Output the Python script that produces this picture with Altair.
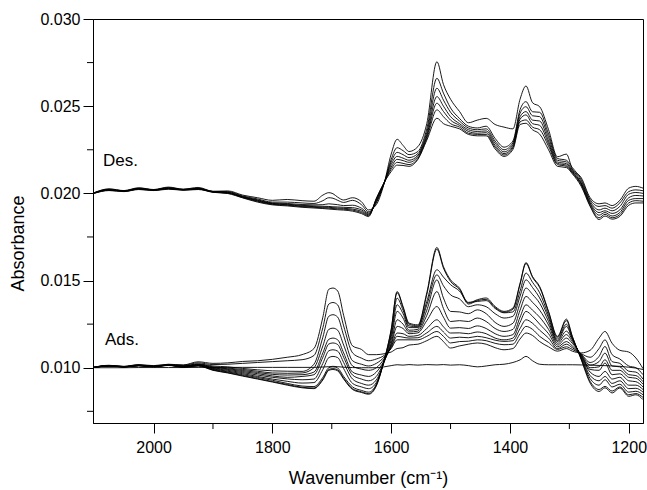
import altair as alt
import pandas as pd

# Wavenumber grid (cm-1)
wavenumber = [2100, 2075, 2050, 2025, 2000, 1975, 1950, 1925, 1900, 1875,
              1850, 1825, 1800, 1775, 1750, 1730, 1715, 1705, 1698, 1690,
              1680, 1665, 1650, 1638, 1625, 1612, 1600, 1590, 1580, 1570,
              1555, 1540, 1523, 1512, 1500, 1485, 1470, 1455, 1440, 1425,
              1410, 1395, 1383, 1373, 1362, 1350, 1335, 1320, 1305, 1295,
              1280, 1265, 1250, 1240, 1228, 1215, 1200, 1188, 1176]

# Absorbance values in units of 1e-5
des_1 = [2004, 2026, 2016, 2032, 2022, 2036, 2024, 2034, 2012, 2014,
         1990, 1975, 1960, 1965, 1958, 1955, 1990, 2004, 1998, 1978,
         1962, 1975, 1952, 1905, 1935, 2055, 2225, 2310, 2275, 2240,
         2268, 2400, 2755, 2625, 2540, 2470, 2405, 2420, 2430, 2395,
         2380, 2370, 2540, 2616, 2520, 2497, 2365, 2210, 2225, 2140,
         2090, 1975, 1940, 1945, 1930, 1960, 2030, 2040, 2030]
des_2 = [2003, 2024, 2015, 2030, 2021, 2033, 2023, 2030, 2011, 2010,
         1985, 1968, 1950, 1950, 1945, 1942, 1958, 1975, 1972, 1960,
         1948, 1960, 1935, 1895, 1945, 2056, 2195, 2262, 2245, 2222,
         2240, 2370, 2660, 2575, 2490, 2430, 2385, 2375, 2385, 2315,
         2265, 2300, 2480, 2526, 2468, 2465, 2340, 2200, 2190, 2148,
         2080, 1965, 1925, 1930, 1915, 1945, 2010, 2020, 2015]
des_3 = [2003, 2022, 2014, 2028, 2020, 2031, 2022, 2028, 2010, 2007,
         1982, 1963, 1945, 1942, 1936, 1934, 1935, 1940, 1938, 1935,
         1930, 1932, 1915, 1888, 1952, 2057, 2180, 2235, 2222, 2205,
         2228, 2350, 2603, 2535, 2465, 2415, 2375, 2365, 2370, 2300,
         2250, 2290, 2460, 2497, 2445, 2440, 2320, 2190, 2180, 2135,
         2070, 1955, 1905, 1915, 1900, 1925, 1995, 2005, 2000]
des_4 = [2002, 2020, 2013, 2026, 2019, 2029, 2021, 2027, 2009, 2005,
         1980, 1960, 1942, 1938, 1931, 1928, 1926, 1925, 1923, 1922,
         1920, 1918, 1905, 1882, 1958, 2058, 2165, 2212, 2202, 2190,
         2218, 2335, 2555, 2500, 2440, 2400, 2365, 2355, 2358, 2288,
         2238, 2280, 2440, 2469, 2420, 2415, 2300, 2180, 2170, 2128,
         2060, 1945, 1890, 1900, 1885, 1905, 1975, 1988, 1985]
des_5 = [2002, 2019, 2012, 2025, 2018, 2027, 2020, 2025, 2008, 2003,
         1978, 1957, 1940, 1935, 1927, 1924, 1921, 1920, 1918, 1916,
         1914, 1910, 1897, 1877, 1963, 2059, 2150, 2195, 2188, 2178,
         2210, 2325, 2517, 2470, 2420, 2390, 2355, 2345, 2348, 2275,
         2228, 2270, 2425, 2450, 2400, 2390, 2285, 2172, 2162, 2122,
         2055, 1938, 1875, 1890, 1870, 1890, 1960, 1970, 1970]
des_6 = [2001, 2018, 2011, 2024, 2017, 2026, 2019, 2024, 2007, 2001,
         1976, 1954, 1937, 1932, 1924, 1920, 1917, 1915, 1913, 1911,
         1909, 1904, 1890, 1872, 1968, 2060, 2138, 2178, 2172, 2165,
         2200, 2315, 2479, 2440, 2400, 2380, 2345, 2338, 2338, 2265,
         2220, 2262, 2410, 2421, 2380, 2365, 2270, 2165, 2155, 2118,
         2048, 1930, 1860, 1880, 1860, 1878, 1945, 1958, 1955]
des_7 = [2000, 2016, 2010, 2022, 2016, 2024, 2018, 2022, 2006, 1999,
         1974, 1950, 1934, 1928, 1920, 1916, 1913, 1910, 1908, 1906,
         1904, 1898, 1884, 1867, 1972, 2061, 2125, 2162, 2160, 2155,
         2195, 2305, 2431, 2400, 2385, 2370, 2338, 2330, 2330, 2255,
         2212, 2252, 2395, 2402, 2365, 2340, 2250, 2155, 2148, 2112,
         2040, 1925, 1850, 1870, 1852, 1868, 1932, 1945, 1945]

ads_1 = [1002, 1012, 1004, 1014, 1006, 1016, 1002, 1010, 985, 970,
         952, 935, 918, 900, 885, 880, 930, 985, 990, 982,
         935, 875, 858, 848, 895, 1040, 1220, 1437, 1351, 1256,
         1246, 1430, 1690, 1580, 1504, 1457, 1371, 1390, 1400, 1351,
         1323, 1342, 1485, 1603, 1523, 1466, 1323, 1180, 1279, 1180,
         1046, 912, 864, 885, 855, 884, 836, 845, 817]
ads_2 = [1003, 1010, 1006, 1012, 1008, 1014, 1004, 1012, 987, 972,
         955, 938, 921, 904, 888, 884, 935, 990, 995, 988,
         940, 880, 862, 852, 900, 1040, 1215, 1430, 1345, 1250,
         1240, 1420, 1680, 1572, 1495, 1450, 1365, 1385, 1392, 1345,
         1318, 1335, 1478, 1598, 1518, 1460, 1318, 1175, 1270, 1178,
         1050, 922, 875, 893, 866, 890, 845, 852, 830]
ads_3 = [1001, 1011, 1005, 1013, 1005, 1015, 1005, 1014, 990, 976,
         960, 944, 928, 910, 895, 892, 945, 1000, 1005, 998,
         950, 890, 870, 860, 905, 1040, 1195, 1399, 1330, 1240,
         1235, 1380, 1562, 1520, 1476, 1440, 1375, 1380, 1385, 1340,
         1315, 1320, 1440, 1543, 1490, 1430, 1300, 1165, 1250, 1170,
         1055, 938, 900, 931, 890, 905, 860, 865, 845]
ads_4 = [1002, 1009, 1004, 1011, 1007, 1013, 1006, 1012, 993, 980,
         966, 950, 935, 922, 912, 915, 990, 1058, 1065, 1058,
         995, 910, 890, 880, 915, 1035, 1180, 1361, 1310, 1230,
         1230, 1360, 1533, 1470, 1418, 1395, 1350, 1361, 1350, 1310,
         1285, 1295, 1410, 1504, 1460, 1400, 1285, 1155, 1237, 1165,
         1060, 955, 925, 950, 910, 925, 880, 882, 860]
ads_5 = [1003, 1012, 1006, 1014, 1006, 1016, 1007, 1015, 996, 985,
         972, 958, 945, 936, 931, 935, 1025, 1097, 1103, 1095,
         1030, 935, 910, 900, 930, 1030, 1160, 1323, 1285, 1215,
         1220, 1330, 1504, 1400, 1323, 1320, 1310, 1332, 1310, 1260,
         1237, 1255, 1370, 1457, 1420, 1370, 1265, 1150, 1210, 1160,
         1065, 975, 950, 979, 935, 945, 900, 900, 875]
ads_6 = [1002, 1010, 1005, 1012, 1008, 1014, 1008, 1016, 999, 990,
         978, 966, 953, 945, 950, 960, 1060, 1136, 1142, 1133,
         1060, 958, 935, 925, 950, 1035, 1140, 1275, 1250, 1205,
         1210, 1300, 1437, 1340, 1265, 1270, 1265, 1285, 1265, 1225,
         1208, 1220, 1330, 1409, 1375, 1330, 1245, 1140, 1190, 1150,
         1070, 990, 985, 1027, 960, 965, 925, 920, 890]
ads_7 = [1001, 1011, 1004, 1013, 1007, 1015, 1008, 1018, 1002, 994,
         984, 973, 962, 958, 960, 975, 1085, 1163, 1170, 1160,
         1085, 975, 958, 950, 975, 1040, 1130, 1237, 1225, 1195,
         1200, 1270, 1351, 1290, 1227, 1230, 1225, 1240, 1225, 1195,
         1180, 1190, 1290, 1361, 1330, 1290, 1220, 1130, 1170, 1140,
         1072, 1000, 1005, 1046, 985, 985, 945, 940, 905]
ads_8 = [1003, 1013, 1006, 1015, 1006, 1017, 1010, 1020, 1005, 998,
         990, 980, 970, 968, 970, 1000, 1125, 1220, 1227, 1215,
         1130, 1010, 992, 985, 1000, 1050, 1120, 1199, 1195, 1180,
         1185, 1225, 1275, 1235, 1199, 1200, 1195, 1205, 1195, 1170,
         1160, 1170, 1260, 1323, 1295, 1250, 1195, 1120, 1150, 1125,
         1075, 1015, 1035, 1084, 1010, 1005, 960, 955, 920]
ads_9 = [1002, 1010, 1005, 1012, 1009, 1014, 1010, 1022, 1010, 1005,
         996, 988, 982, 980, 979, 1020, 1175, 1295, 1304, 1290,
         1185, 1040, 1020, 1010, 1025, 1060, 1115, 1180, 1175, 1170,
         1172, 1200, 1237, 1205, 1170, 1175, 1172, 1180, 1172, 1158,
         1151, 1155, 1225, 1275, 1255, 1215, 1170, 1110, 1135, 1115,
         1078, 1030, 1065, 1122, 1035, 1025, 980, 975, 935]
ads_10 = [1004, 1012, 1007, 1016, 1010, 1018, 1014, 1028, 1018, 1020,
          1025, 1030, 1035, 1040, 1046, 1070, 1230, 1365, 1374, 1360,
          1240, 1085, 1055, 1040, 1050, 1070, 1110, 1160, 1160, 1160,
          1160, 1180, 1208, 1180, 1142, 1150, 1152, 1160, 1155, 1140,
          1132, 1135, 1195, 1237, 1220, 1180, 1145, 1105, 1120, 1105,
          1080, 1060, 1110, 1160, 1075, 1050, 1010, 1000, 960]
ads_11 = [1003, 1014, 1008, 1018, 1012, 1020, 1016, 1034, 1025, 1028,
          1036, 1040, 1048, 1060, 1075, 1110, 1290, 1450, 1457, 1440,
          1300, 1125, 1105, 1075, 1075, 1080, 1090, 1110, 1115, 1130,
          1135, 1155, 1180, 1150, 1113, 1125, 1135, 1142, 1135, 1115,
          1103, 1110, 1165, 1199, 1185, 1150, 1120, 1095, 1110, 1095,
          1085, 1100, 1170, 1208, 1140, 1100, 1090, 1056, 995]
ads_12 = [1000, 1000, 1000, 1001, 1001, 1001, 1001, 1002, 1002, 1002,
          1002, 1002, 1002, 1002, 1002, 1002, 1004, 1006, 1008, 1006,
          1003, 1001, 1000, 1000, 1000, 1005, 1012, 1017, 1015, 1018,
          1015, 1018, 1016, 1018, 1015, 1017, 1012, 1005, 1010, 1017,
          1020, 1030, 1045, 1065, 1040, 1020, 1017, 1017, 1017, 1017,
          1016, 1015, 1013, 1012, 1010, 1008, 1003, 998, 990]

UNIT = 1e-5

# Tick values
x_major = [2000, 1800, 1600, 1400, 1200]
x_minor = [1900, 1700, 1500, 1300]
y_major = [0.010, 0.015, 0.020, 0.025, 0.030]
y_minor = [0.0075, 0.0125, 0.0175, 0.0225, 0.0275]

# Annotations
label_text = ["Des.", "Ads."]
label_w = [2085, 2082]
label_a = [0.02158, 0.01132]

series = {
    "des1": des_1, "des2": des_2, "des3": des_3, "des4": des_4,
    "des5": des_5, "des6": des_6, "des7": des_7,
    "ads1": ads_1, "ads2": ads_2, "ads3": ads_3, "ads4": ads_4,
    "ads5": ads_5, "ads6": ads_6, "ads7": ads_7, "ads8": ads_8,
    "ads9": ads_9, "ads10": ads_10, "ads11": ads_11, "ads12": ads_12,
}
rows = []
for name, vals in series.items():
    for w, v in zip(wavenumber, vals):
        rows.append({"w": w, "a": v * UNIT, "series": name})
df = pd.DataFrame(rows)

FONT = "Liberation Sans"
W, H = 550, 404

xs = alt.Scale(domain=[1176, 2102], reverse=True, nice=False, zero=False)
ys = alt.Scale(domain=[0.00683, 0.030], nice=False, zero=False)

x_axis = alt.Axis(values=x_major, format="d", tickSize=10, labelPadding=6,
                  labelFontSize=16, title="Wavenumber (cm⁻¹)", titleFontSize=18,
                  titleFontWeight="normal", titleX=W / 2, titleY=55,
                  titleAlign="center", titleBaseline="middle")
y_axis = alt.Axis(values=y_major, format=".3f", tickSize=10, labelPadding=3,
                  labelFontSize=16, title="Absorbance", titleFontSize=18,
                  titleFontWeight="normal", titleX=-75, titleY=224, titleAngle=270,
                  titleAlign="center", titleBaseline="middle")

lines = alt.Chart(df).mark_line(color="black", strokeWidth=0.9, clip=True,
                                interpolate="monotone").encode(
    x=alt.X("w:Q", scale=xs, axis=x_axis),
    y=alt.Y("a:Q", scale=ys, axis=y_axis),
    detail="series:N",
)

labels_df = pd.DataFrame({"w": label_w, "a": label_a, "t": label_text})
labels = alt.Chart(labels_df).mark_text(align="left", baseline="alphabetic",
                                        fontSize=17, font=FONT, color="black").encode(
    x=alt.X("w:Q", scale=xs, axis=x_axis),
    y=alt.Y("a:Q", scale=ys, axis=y_axis),
    text="t:N",
)

yminor = alt.Chart(pd.DataFrame({"a": y_minor})).mark_rule(color="black", strokeWidth=1).encode(
    y=alt.Y("a:Q", scale=ys, axis=y_axis),
    x=alt.value(-6), x2=alt.value(0),
)
xminor = alt.Chart(pd.DataFrame({"w": x_minor})).mark_rule(color="black", strokeWidth=1).encode(
    x=alt.X("w:Q", scale=xs, axis=x_axis),
    y=alt.value(H), y2=alt.value(H + 6),
)

chart = alt.layer(lines, labels, yminor, xminor).properties(
    width=W, height=H,
    autosize=alt.AutoSizeParams(type="none"),
    padding={"left": 93, "top": 19, "right": 4, "bottom": 67},
    background="white",
).configure_view(
    stroke="black", strokeWidth=1
).configure_axis(
    grid=False, domainColor="black", domainWidth=1, tickColor="black", tickWidth=1,
    labelColor="black", titleColor="black", labelFont=FONT, titleFont=FONT,
)

chart.save("out.html", embed_options={"renderer": "svg", "actions": False})
